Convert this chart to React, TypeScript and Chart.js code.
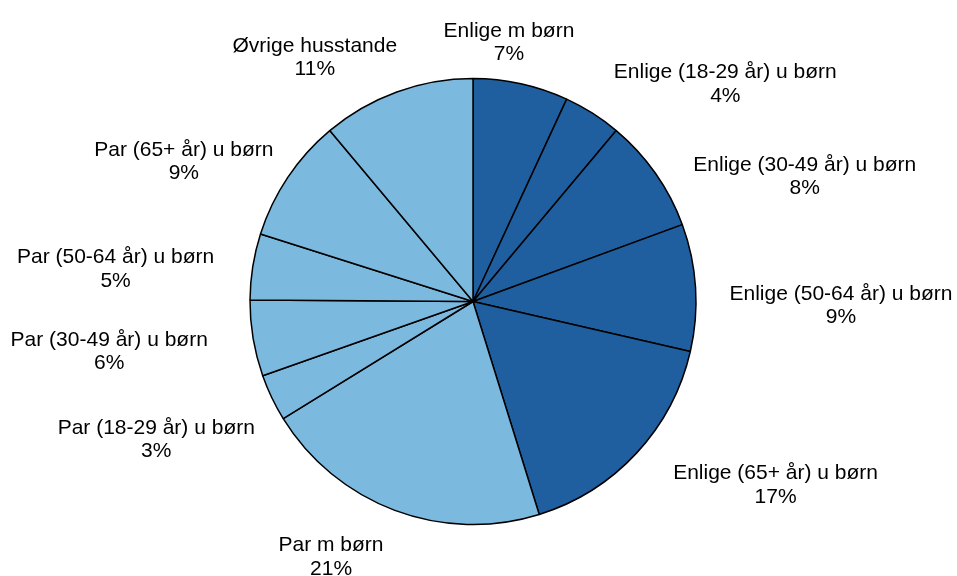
import React, { useEffect, useRef } from "react";
import { Chart, registerables } from "chart.js";

Chart.register(...registerables);

const categories: string[] = [
  "Enlige m børn",
  "Enlige (18-29 år) u børn",
  "Enlige (30-49 år) u børn",
  "Enlige (50-64 år) u børn",
  "Enlige (65+ år) u børn",
  "Par m børn",
  "Par (18-29 år) u børn",
  "Par (30-49 år) u børn",
  "Par (50-64 år) u børn",
  "Par (65+ år) u børn",
  "Øvrige husstande",
];

const shares: number[] = [6.9, 4.2, 8.3, 9.2, 16.6, 21.0, 3.4, 5.5, 4.8, 9.0, 11.1];

const groups: string[] = [
  "enlige", "enlige", "enlige", "enlige", "enlige",
  "par", "par", "par", "par", "par", "other",
];

const DARK = "#1f5f9f";
const LIGHT = "#7cb9df";

// label placement: [angle shift from slice middle (deg), distance from centre (px)]
const labelNudge: [number, number][] = [
  [-4.56, 263],
  [16.66, 334],
  [14.26, 355],
  [4.02, 368],
  [-11.84, 353],
  [8.68, 291],
  [2.21, 345],
  [1.94, 367],
  [-3.6, 359],
  [-7.74, 322],
  [-12.82, 292],
];

const FONT = "21px 'Liberation Sans', Arial, sans-serif";
const LINE_GAP = 23.5;

const labelPlugin = {
  id: "outsideLabels",
  afterDatasetsDraw(chart: any) {
    const ctx = chart.ctx;
    const meta = chart.getDatasetMeta(0);
    ctx.save();
    ctx.font = FONT;
    ctx.fillStyle = "#000000";
    ctx.textAlign = "center";
    ctx.textBaseline = "alphabetic";
    meta.data.forEach((arc: any, i: number) => {
      const mid = (arc.startAngle + arc.endAngle) / 2;
      const [shift, dist] = labelNudge[i];
      const a = mid + (shift * Math.PI) / 180;
      const x = arc.x + Math.cos(a) * dist;
      const y = arc.y + Math.sin(a) * dist;
      const meanBase = y + 7.5;
      const b1 = meanBase - LINE_GAP / 2;
      const b2 = meanBase + LINE_GAP / 2;
      ctx.fillText(categories[i], x, b1);
      ctx.fillText(Math.round(shares[i]) + "%", x, b2);
    });
    ctx.restore();
  },
};

export default function App() {
  const ref = useRef<HTMLCanvasElement | null>(null);
  useEffect(() => {
    if (!ref.current) return;
    const chart = new Chart(ref.current, {
      type: "pie",
      data: {
        labels: categories,
        datasets: [
          {
            data: shares,
            backgroundColor: groups.map((g) => (g === "enlige" ? DARK : LIGHT)),
            borderColor: "#000000",
            borderWidth: 1.5,
          },
        ],
      },
      options: {
        responsive: false,
        animation: false,
        radius: 223,
        layout: { padding: { left: 0, right: 11, top: 27, bottom: 0 } },
        plugins: {
          legend: { display: false },
          tooltip: { enabled: false },
        },
      } as any,
      plugins: [labelPlugin],
    });
    return () => chart.destroy();
  }, []);
  return (
    <div style={{ position: "fixed", left: 0, top: 0, width: 957, height: 576, background: "#fff" }}>
      <canvas ref={ref} width={957} height={576} style={{ display: "block" }} />
    </div>
  );
}
